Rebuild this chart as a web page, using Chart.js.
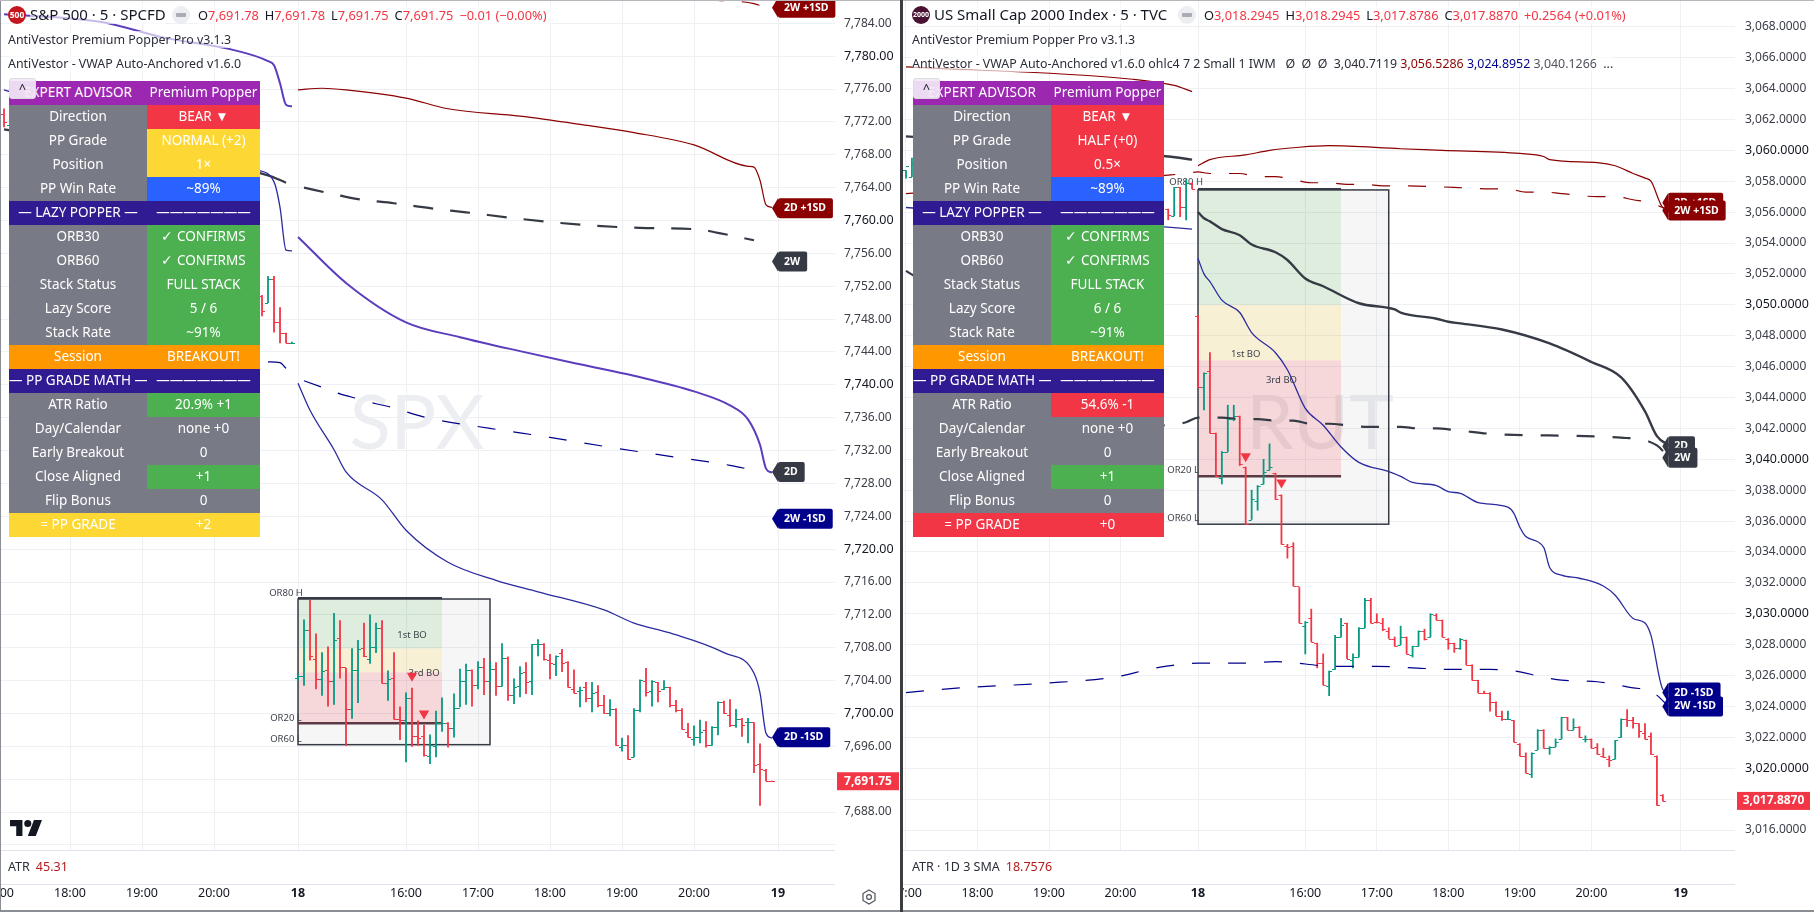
<!DOCTYPE html>
<html>
<head>
<meta charset="utf-8">
<title>SPX / RUT</title>
<script src="https://cdn.jsdelivr.net/npm/chart.js@4/dist/chart.umd.min.js"></script>
<style>
  html, body { margin: 0; padding: 0; background: #fff; width: 1814px; height: 912px; overflow: hidden; }
  body { font-family: "Noto Sans", sans-serif; color: #131722; position: relative; }
  canvas { position: absolute; top: 0; }
  .abs { position: absolute; white-space: pre; }
  .title { font-size: 15px; top: 4px; background: rgba(255,255,255,.65); }
  .ohlc { font-size: 12.8px; top: 6px; color: #131722; background: rgba(255,255,255,.65); }
  .ohlc b { font-weight: 400; color: #f23645; margin-right: 6px; }
  .row { font-size: 12.4px; color: #2a2e39; background: rgba(255,255,255,.65); }
  .row i { font-style: normal; }
  .hline { position: absolute; height: 1px; background: #e0e3eb; }
  .icon { position: absolute; top: 6px; width: 18px; height: 18px; border-radius: 50%; color: #fff; font-size: 8.5px; font-weight: 700; text-align: center; line-height: 18px; }
  .minus { position: absolute; top: 6px; width: 18px; height: 18px; border-radius: 50%; background: #eceef1; }
  .minus:after { content: ""; position: absolute; left: 4px; top: 7px; width: 10px; height: 4px; border-radius: 1px; background: #a9acb5; }
  table.ea { position: absolute; top: 81px; border-collapse: collapse; table-layout: fixed; width: 251px; font-size: 13.5px; color: #fff; text-align: center; }
  table.ea td { height: 24px; padding: 0 0 2px 0; box-sizing: border-box; line-height: 22px; white-space: nowrap; overflow: hidden; }
  .pur { background: #9c27b0; } .gry { background: #787b86; } .red { background: #f23645; }
  .yel { background: #fdd835; } .blu { background: #2962ff; } .nav { background: #311b92; }
  .grn { background: #4caf50; } .org { background: #ff9800; }
  .collapse { position: absolute; top: 78px; width: 27px; height: 21px; background: rgba(243,232,247,.92); border: 1px solid #dcdcdc; border-radius: 3px; box-sizing: border-box; font-size: 13px; text-align: center; line-height: 19px; color: #131722; }
  .atr { top: 858px; font-size: 12.5px; color: #2a2e39; }
  .atr b { font-weight: 400; color: #b71c1c; margin-left: 6px; }
</style>
</head>
<body>
<canvas id="spxChart" width="900" height="912" style="left:0"></canvas>
<canvas id="rutChart" width="911" height="912" style="left:903px"></canvas>

<div class="hline" style="left:0;width:835px;top:850px"></div>
<div class="hline" style="left:0;width:835px;top:884px"></div>
<div class="hline" style="left:903px;width:832px;top:850px"></div>
<div class="hline" style="left:903px;width:832px;top:884px"></div>
<div style="position:absolute;left:0;top:0;width:1px;height:912px;background:#8a8d94"></div>
<div style="position:absolute;left:0;top:0;width:1814px;height:1px;background:#b5b7bd"></div>
<div style="position:absolute;left:0;top:910px;width:1814px;height:2px;background:#8a8d94"></div>
<div style="position:absolute;left:900px;top:0;width:3px;height:912px;background:#3b3d42"></div>

<div class="icon" style="left:8px;background:#c4161c">500</div>
<div class="abs title" style="left:30px">S&amp;P 500 · 5 · SPCFD</div>
<div class="minus" style="left:172px"></div>
<div class="abs ohlc" style="left:198px">O<b>7,691.78</b>H<b>7,691.78</b>L<b>7,691.75</b>C<b>7,691.75</b><b>−0.01 (−0.00%)</b></div>
<div class="abs row" style="left:8px;top:31px">AntiVestor Premium Popper Pro v3.1.3</div>
<div class="abs row" style="left:8px;top:55px">AntiVestor - VWAP Auto-Anchored v1.6.0</div>
<div class="abs atr" style="left:8px">ATR<b>45.31</b></div>

<div class="icon" style="left:912px;background:#4a1232;font-size:7px">2000</div>
<div class="abs title" style="left:934px">US Small Cap 2000 Index · 5 · TVC</div>
<div class="minus" style="left:1178px"></div>
<div class="abs ohlc" style="left:1204px">O<b>3,018.2945</b>H<b>3,018.2945</b>L<b>3,017.8786</b>C<b>3,017.8870</b><b>+0.2564 (+0.01%)</b></div>
<div class="abs row" style="left:912px;top:31px">AntiVestor Premium Popper Pro v3.1.3</div>
<div class="abs row" style="left:912px;top:55px">AntiVestor - VWAP Auto-Anchored v1.6.0 ohlc4 7 2 Small 1 IWM   Ø  Ø  Ø  3,040.7119 <i style="color:#8b0000">3,056.5286</i> <i style="color:#00008b">3,024.8952</i> <i style="color:#50535e">3,040.1266</i>  ...</div>
<div class="abs atr" style="left:912px">ATR · 1D 3 SMA<b>18.7576</b></div>

<table class="ea" id="spxTable" style="left:9px"></table>
<table class="ea" id="rutTable" style="left:913px"></table>
<div class="collapse" style="left:9px">^</div>
<div class="collapse" style="left:913px">^</div>

<svg style="position:absolute;left:10px;top:820px" width="32" height="16" viewBox="0 0 36 18">
  <path fill="#131722" d="M0 0h14v18H7V7H0zM20 0a4 4 0 1 1 0 8a4 4 0 0 1 0-8zM27 0h9l-7 18h-9z"/>
</svg>
<svg style="position:absolute;left:861px;top:889px" width="16" height="16" viewBox="0 0 16 16" fill="none" stroke="#50535e" stroke-width="1.2">
  <polygon points="8,1 14,4.5 14,11.5 8,15 2,11.5 2,4.5"/><circle cx="8" cy="8" r="2.4"/>
</svg>

<script>
// S&P 500 bars (index 0 = 14:30 of the 18th, 5 min a bar)
const spxIndex = [-49,-48,-6,-5,-4,-3,-2,-1,
  0,1,2,3,4,5,6,7,8,9,10,11,12,13,14,15,16,17,18,19,20,21,22,23,24,25,26,27,28,29,30,31,32,33,34,35,36,37,38,39,
  40,41,42,43,44,45,46,47,48,49,50,51,52,53,54,55,56,57,58,59,60,61,62,63,64,65,66,67,68,69,70,71,72,73,74,75,76,77,78,79];
const spxOpen = [7773,7771.6,7750.8,7750,7752.9,7747.6,7746.3,7745.1,
  7704.3,7704.5,7710.1,7706.6,7704.2,7705.3,7704,7709.2,7705.6,7700.5,7705.3,7708,7706.6,7708.1,7710.4,7703.7,7704.3,7699.3,7699.2,7701.9,7697.3,7697.3,7694.8,7696,7698.8,7698.8,7698.2,7700.7,7703.9,7705.3,7703.5,7705.7,7704,7705.4,7703.3,7706.7,7702.2,7703.3,7705.1,7704,
  7708.4,7708.5,7706.5,7706,7707.4,7706.3,7703,7702.7,7703.2,7701.9,7702.6,7701,7700.1,7700.6,7695.9,7696.1,7694.7,7700.4,7704,7702.7,7703.8,7703,7703.2,7701,7700.4,7697.8,7696.9,7697.1,7698,7696.1,7698.3,7701.4,7699.8,7698.6,7699.3,7698.9,7698.9,7693.9,7693.1,7691.78];
const spxHigh = [7773.6,7772.2,7750.9,7753.2,7753.2,7749.4,7746.3,7745.2,
  7704.8,7711.4,7713.8,7709.7,7707.4,7708.1,7712.2,7711.3,7705.5,7707.9,7708.9,7711,7712,7711,7711.3,7705.2,7707.4,7700.8,7702.5,7703.1,7699.1,7698.6,7697.4,7700.3,7701.9,7698.9,7702.4,7705.4,7706,7705.3,7706.3,7706.7,7706.2,7706.2,7708.5,7706.9,7704.2,7705.7,7706.2,7708.4,
  7709,7708.5,7707.2,7707,7707.8,7706.3,7705.3,7703.2,7703.8,7703.8,7703.4,7702.2,7701.7,7700.6,7697,7697.3,7700.6,7704.1,7705.5,7704,7703.8,7704,7703.2,7701.6,7700.6,7698.8,7698.5,7699.2,7699,7698.4,7701.4,7701.5,7701.7,7700.5,7699.4,7699.4,7698.9,7696.3,7693.2,7691.78];
const spxLow = [7771.4,7770.8,7748.4,7750,7746.4,7745.1,7745.1,7745.1,
  7704,7703.4,7706.5,7703,7702.2,7700.9,7701.1,7704.3,7696.1,7699.4,7701.3,7706.9,7706.1,7707.4,7703.7,7701.6,7699.3,7696.8,7694.1,7696,7696.1,7694.8,7693.9,7694.7,7697.8,7695.9,7697.1,7700.8,7701.1,7700.9,7703,7702.3,7703.9,7702.2,7703.3,7701.6,7701.2,7702,7702.4,7702.3,
  7707,7706.5,7704.2,7704.6,7705.1,7703.2,7702.5,7700.8,7701.4,7700.2,7700.8,7700,7699.7,7696.1,7695.4,7694.4,7694.7,7700.2,7702.1,7700.9,7701.4,7702.9,7700.8,7700.2,7698.1,7697.1,7696.1,7696.4,7695.9,7696.1,7697.4,7700,7698.4,7698.3,7697.2,7696.4,7692.8,7688.8,7691.8,7691.75];
const spxClose = [7772,7772,7749,7752.9,7747.6,7746.3,7745.1,7745.1,
  7704.5,7710.1,7707,7704.2,7705.2,7704,7708.9,7705.7,7700.5,7705.3,7707.8,7707,7708.1,7710.4,7703.7,7704.2,7699.3,7699.2,7701.9,7697.3,7697,7695,7696.2,7698.8,7698.8,7698.2,7700.7,7703.9,7705.3,7703.5,7705.7,7704,7705.4,7703.3,7706.7,7702.2,7703.2,7704.9,7703.8,7708.4,
  7708.4,7706.6,7706.2,7707,7706.1,7703.2,7702.5,7702.8,7701.9,7702.5,7701,7700.1,7700.6,7696.1,7696.1,7694.5,7700.4,7704.1,7702.6,7703.9,7702.7,7703.2,7701,7700.4,7698.1,7697.1,7697.1,7697.8,7696.1,7698.3,7701.4,7700,7698.6,7699.3,7698.6,7698.9,7693.7,7693.2,7691.8,7691.75];

// Russell bars
const rutIndex = [-49,-48,-5,-4,-3,-2,-1,
  0,1,2,3,4,5,6,7,8,9,10,11,12,13,14,15,16,17,18,19,20,21,22,23,24,25,26,27,28,29,30,31,32,33,34,35,36,37,38,39,
  40,41,42,43,44,45,46,47,48,49,50,51,52,53,54,55,56,57,58,59,60,61,62,63,64,65,66,67,68,69,70,71,72,73,74,75,76,77,78];
const rutOpen = [3058.7,3058.3,3056.2,3055.75,3057.6,3056.3,3057.9,
  3049.3,3044.7,3045.7,3041.7,3038.8,3040.5,3042.6,3042.8,3039.5,3036.1,3037.3,3038.4,3039.3,3039.1,3037.7,3034.4,3034.4,3031.8,3029.2,3029.7,3028.1,3026.8,3025.3,3026.4,3028.5,3029.4,3027,3027.2,3029.1,3030.9,3029.5,3029.4,3028.9,3028.4,3028,3028.5,3027.3,3027.9,3028.9,3028.5,
  3029.9,3029.6,3028.4,3028.1,3027.8,3028.3,3026.7,3025.7,3024.9,3024.9,3024.3,3023.4,3023.2,3023.1,3021.6,3020.8,3019.6,3021.2,3022.5,3021.3,3021.4,3021.9,3023.3,3022.5,3022.7,3021.9,3021.9,3021.4,3020.8,3020.6,3020.6,3022,3023.2,3023.1,3022.9,3022.3,3022.1,3020.8,3018.2945];
const rutHigh = [3058.7,3059.5,3056.2,3057.6,3057.6,3058.1,3057.9,
  3049.3,3045.6,3046.9,3041.7,3040.5,3043.5,3043.5,3042.8,3039.5,3038,3038.3,3040,3041,3039.1,3037.7,3034.5,3034.6,3031.7,3029.5,3030.3,3028.1,3027.4,3026.3,3028.6,3029.7,3029.4,3027.4,3029.1,3031,3031,3030,3029.7,3029.1,3028.5,3029.2,3028.5,3027.9,3028.9,3029,3030,
  3030,3029.6,3028.4,3028.1,3028.4,3028.3,3026.7,3025.7,3025,3024.9,3024.3,3023.7,3023.7,3023.1,3021.6,3021,3021,3022.5,3022.5,3021.4,3021.9,3023.3,3023.3,3023.2,3022.7,3022.1,3021.9,3021.6,3021.3,3020.8,3021.8,3023.2,3023.8,3023.3,3022.9,3022.9,3022.3,3020.8,3018.2945];
const rutLow = [3058.2,3058.3,3055.5,3055.75,3055.7,3055.5,3057.5,
  3044.7,3043.2,3041.7,3038.9,3038.4,3040.5,3042.5,3039.6,3035.8,3036.1,3036.7,3038.4,3039.3,3037.4,3034.5,3033.6,3031.8,3029.4,3027.4,3028.2,3026.5,3025.4,3024.7,3026.4,3028.5,3027.1,3026.5,3027.2,3029.1,3029.4,3029.4,3028.9,3028.4,3027.9,3028,3027.4,3027.2,3027.9,3028.3,3028.5,
  3029.6,3028.5,3027.7,3027.5,3027.7,3026.7,3025.7,3024.9,3024.9,3023.7,3023.4,3023.1,3023.2,3021.7,3020.8,3019.7,3019.4,3021.2,3021.3,3020.9,3021.4,3021.9,3022.5,3022.5,3022,3021.7,3021.3,3020.9,3020.7,3020.1,3020.6,3022,3022.7,3022.6,3022,3021.9,3020.9,3017.6,3017.8786];
const rutClose = [3059,3059.2,3055.8,3057.6,3056.3,3057.9,3057.5,
  3044.7,3045.6,3041.7,3038.9,3040.5,3042.6,3042.8,3039.7,3035.8,3037.4,3038.3,3039.2,3039.5,3037.4,3034.5,3034.3,3031.8,3029.4,3029.5,3028.2,3026.8,3025.4,3026.3,3028.5,3029.3,3027.1,3027.2,3029.1,3030.9,3029.4,3029.45,3029,3028.4,3027.9,3028.5,3027.4,3027.9,3028.9,3028.4,3030,
  3029.6,3028.5,3028.1,3027.8,3028.4,3026.7,3025.7,3024.9,3024.85,3024.3,3023.4,3023.2,3023.2,3021.7,3020.8,3019.7,3021,3022.5,3021.3,3021.4,3021.7,3023.3,3022.5,3022.7,3022,3021.9,3021.3,3020.9,3020.7,3020.55,3021.8,3023.2,3023.1,3022.9,3022.4,3021.9,3020.9,3017.6,3017.887];

// VWAP bands, each an index list and a value list
const spx2dIdx = [0,8,18,27,37,47,56,66,72,75,77,78,79];
const spx2dVal = [7758,7752.4,7747.6,7745.8,7744.1,7742.5,7741.1,7739.2,7737.5,7735.8,7732.7,7729.8,7729.3];
const spx2dPrevIdx = [-49,-33,-22,-11,-5,-4,-3,-2,-1];
const spx2dPrevVal = [7785.1,7784.2,7782.2,7780.8,7779.4,7778.9,7776.7,7774.1,7773.9];
const spxLowIdx = [0,2,6,8,14,18,25,33,40,51,56,62,71,76,77,78,79];
const spxLowVal = [7740.2,7736.9,7732.1,7729.4,7726,7722.3,7718.4,7716.2,7714.8,7712.6,7711,7709.8,7707.4,7704.9,7702.5,7697.6,7697];
const spxLowPrevIdx = [-49,-7,-4,-3,-2,-1];
const spxLowPrevVal = [7775.9,7766.2,7764.7,7761.6,7756.4,7756.3];
const spxHighIdx = [0,4,8,18,25,37,47,56,66,75,76,77,78,79];
const spxHighVal = [7775.9,7776.1,7775.9,7774.9,7773.6,7772.7,7771.7,7770.7,7769.2,7766.6,7766.5,7764.9,7761.9,7761.6];
const spx2wIdx = [1,6,10,16,22,28,37,47,57,67,70,76];
const spx2wVal = [7764,7763.2,7762.6,7762.1,7761.5,7761,7760.2,7759.5,7759.1,7758.9,7758.5,7757.6];
const spx2wPrevIdx = [-49,-5,-2];
const spx2wPrevVal = [7771.1,7765.5,7764.6];
const spx2wLowIdx = [1,4,7,10,13,16,19,22,32,42,52,62,72,76];
const spx2wLowVal = [7740.5,7739.7,7738.9,7738.3,7737.7,7737.2,7736.5,7735.9,7734.7,7733.6,7732.4,7731.3,7730.2,7729.6];
const spx2wLowPrevIdx = [-5,-3,-2];
const spx2wLowPrevVal = [7742.8,7742.7,7742];
const spx2wHighIdx = [62,70,76,79];
const spx2wHighVal = [7787.3,7786.8,7786.4,7785.6];

const rut2dIdx = [0,1,2,4,7,9,13,15,18,21,27,33,34,40,42,44,51,59,66,71,75,77,79];
const rut2dVal = [3056,3055.6,3055.4,3054.9,3054.5,3053.9,3053.4,3052.9,3051.7,3051.2,3050.1,3049.7,3049.5,3049.1,3048.9,3048.8,3048.4,3047.5,3046.3,3045.3,3043.1,3041.5,3040.9];
const rut2dPrevIdx = [-49,-5,-1];
const rut2dPrevVal = [3060.9,3059.6,3059.4];
const rutLowIdx = [0,1,2,4,7,9,13,15,18,21,24,27,32,34,36,40,42,44,47,52,53,54,55,58,59,61,64,68,70,73,75,76,78,79];
const rutLowVal = [3053,3052,3051.5,3050.3,3049.5,3048.2,3046.9,3045.8,3043.3,3042.2,3040.8,3039.8,3039.2,3038.9,3038.5,3038.3,3037.9,3037.8,3037.2,3036.9,3036.5,3035.6,3035,3034.3,3033,3032.5,3032.3,3031.8,3031.2,3029.7,3029.4,3028.6,3025.1,3024.9];
const rutLowPrevIdx = [-49,-4,-1];
const rutLowPrevVal = [3056.3,3055,3054.9];
const rutHighIdx = [0,2,8,12,17,22,34,41,54,58,59,67,70,73,75,76,78,79];
const rutHighVal = [3059,3059.4,3059.7,3060,3060.2,3060.3,3060.1,3060,3059.8,3059.6,3059.4,3059.2,3059,3058.5,3058.2,3058,3056.3,3056.2];
const rutHighPrevIdx = [-49,-11,-4,-1];
const rutHighPrevVal = [3065.4,3064.6,3064.2,3063.8];
const rut2wIdx = [-49,-6,-2,0,4,7,10,13,16,19,22,25,28,31,34,37,40,43,51,71,77,79];
const rut2wVal = [3052.2,3042.2,3042.4,3042.7,3042.7,3042.6,3042.6,3042.5,3042.5,3042.3,3042.3,3042.2,3042.1,3042.1,3042.1,3042,3042,3041.9,3041.6,3041.4,3040.9,3040.1];
const rut2wLowIdx = [-49,-40,-26,-14,-7,0,7,13,23,30,36,42,49,53,58,61,67,73,76,79];
const rut2wLowVal = [3024.9,3025.2,3025.5,3025.9,3026.5,3026.8,3026.8,3026.9,3026.6,3026.6,3026.5,3026.4,3026.4,3026.3,3025.9,3025.7,3025.6,3025.2,3025,3024];
const rut2wHighIdx = [-49,-5,-2,0,2,7,10,13,16,19,22,25,28,31,34,43,49,52,55,58,61,67,70,73,76,79];
const rut2wHighVal = [3057.2,3058.4,3058.5,3058.6,3058.5,3058.5,3058.3,3058.3,3058.1,3057.9,3057.9,3057.8,3057.8,3057.7,3057.7,3057.6,3057.5,3057.5,3057.3,3057.3,3057.2,3057,3057,3056.8,3056.6,3056.1];

// axis ticks
const spxPriceTicks = [7684,7688,7692,7696,7700,7704,7708,7712,7716,7720,7724,7728,7732,7736,7740,7744,7748,7752,7756,7760,7764,7768,7772,7776,7780,7784];
const rutPriceTicks = [3016,3018,3020,3022,3024,3026,3028,3030,3032,3034,3036,3038,3040,3042,3044,3046,3048,3050,3052,3054,3056,3058,3060,3062,3064,3066,3068];
const spxTimeTicks = [-50,-38,-26,-14,0,18,30,42,54,66,80];
const rutTimeTicks = [-49,-37,-25,-13,0,18,30,42,54,66,81];
const timeLabels = ['17:00','18:00','19:00','20:00','18','16:00','17:00','18:00','19:00','20:00','19'];

// opening range zones: value levels top to bottom
const spxZoneLevels = [7714.05,7707.9,7705,7698.8,7696.2];
const rutZoneLevels = [3057.5,3050,3046.4,3038.9,3035.8];
const zoneEnd = 24, boxEnd = 32;

// signal markers
const spxSignalIdx = [19,21];
const spxSignalVal = [7704.6,7700];
const rutSignalIdx = [8,14];
const rutSignalVal = [3040.2,3038.5];

const spxNotes = [['OR80 H',-2,7714.6],['OR20 L',-2,7699.4],['OR60 L',-2,7696.9],['1st BO',19,7709.5],['3rd BO',21,7704.9]];
const rutNotes = [['OR80 H',-2,3057.9],['OR20 L',-2.5,3039.3],['OR60 L',-2.5,3036.2],['1st BO',8,3046.8],['3rd BO',14,3045.1]];

// right edge flags, name and price
const spxTagNames = ['2W +1SD','2D +1SD','2W','2D','2W -1SD','2D -1SD'];
const spxTagVals = [7785.9,7761.5,7755,7729.4,7723.7,7697.1];
const rutTagNames = ['2D +1SD','2W +1SD','2D','2W','2D -1SD','2W -1SD'];
const rutTagVals = [3056.6,3056.1,3040.85,3040.1,3024.9,3024];

const spxRows = [
  ['EXPERT ADVISOR','Premium Popper','pur','pur'],['Direction','BEAR ▼','gry','red'],['PP Grade','NORMAL (+2)','gry','yel'],
  ['Position','1×','gry','yel'],['PP Win Rate','~89%','gry','blu'],['— LAZY POPPER —','———————','nav','nav'],
  ['ORB30','✓ CONFIRMS','gry','grn'],['ORB60','✓ CONFIRMS','gry','grn'],['Stack Status','FULL STACK','gry','grn'],
  ['Lazy Score','5 / 6','gry','grn'],['Stack Rate','~91%','gry','grn'],['Session','BREAKOUT!','org','org'],
  ['— PP GRADE MATH —','———————','nav','nav'],['ATR Ratio','20.9% +1','gry','grn'],['Day/Calendar','none +0','gry','gry'],
  ['Early Breakout','0','gry','gry'],['Close Aligned','+1','gry','grn'],['Flip Bonus','0','gry','gry'],['= PP GRADE','+2','yel','yel']];
const rutRows = [
  ['EXPERT ADVISOR','Premium Popper','pur','pur'],['Direction','BEAR ▼','gry','red'],['PP Grade','HALF (+0)','gry','red'],
  ['Position','0.5×','gry','red'],['PP Win Rate','~89%','gry','blu'],['— LAZY POPPER —','———————','nav','nav'],
  ['ORB30','✓ CONFIRMS','gry','grn'],['ORB60','✓ CONFIRMS','gry','grn'],['Stack Status','FULL STACK','gry','grn'],
  ['Lazy Score','6 / 6','gry','grn'],['Stack Rate','~91%','gry','grn'],['Session','BREAKOUT!','org','org'],
  ['— PP GRADE MATH —','———————','nav','nav'],['ATR Ratio','54.6% -1','gry','red'],['Day/Calendar','none +0','gry','gry'],
  ['Early Breakout','0','gry','gry'],['Close Aligned','+1','gry','grn'],['Flip Bonus','0','gry','gry'],['= PP GRADE','+0','red','red']];

function fillTable(id, rows) {
    document.getElementById(id).innerHTML =
        '<colgroup><col style="width:138px"><col style="width:113px"></colgroup>' +
        rows.map(r => `<tr><td class="${r[2]}">${r[0]}</td><td class="${r[3]}">${r[1]}</td></tr>`).join('');
}
fillTable('spxTable', spxRows);
fillTable('rutTable', rutRows);

const FONT = '"Noto Sans", sans-serif';
const UP = '#089981', DOWN = '#f23645';
const DARK = '#363a45', MAROON = '#8b0000', NAVY = '#00008b', BAND = '#2b2b9e', PURPLE = '#5c3dbd';
const tagColor = n => n.includes('+1SD') ? MAROON : n.includes('-1SD') ? NAVY : DARK;

function lineSet(idx, vals, color, width, dash) {
    return {
        type: 'line',
        data: idx.map((x, i) => ({ x, y: vals[i] })),
        borderColor: color,
        borderWidth: width,
        borderDash: dash || [],
        pointRadius: 0,
        cubicInterpolationMode: 'monotone',
        order: 2
    };
}

function money(v, digits) {
    return v.toLocaleString('en-US', { minimumFractionDigits: digits, maximumFractionDigits: digits });
}

// bar ticks, opening range boxes, flags, watermark: all placed through the chart scales
function panePlugin(cfg) {
    return {
        id: 'paneMarks',
        beforeDatasetsDraw(chart) {
            const { ctx, chartArea: a, scales: { x, y } } = chart;
            ctx.save();
            ctx.beginPath();
            ctx.rect(a.left, a.top, a.width, a.height);
            ctx.clip();
            ctx.fillStyle = '#eceef1';
            ctx.font = '400 76px Lato, ' + FONT;
            ctx.textAlign = 'center';
            ctx.textBaseline = 'middle';
            ctx.fillText(cfg.mark, cfg.markX, 424);

            const lv = cfg.zones.map(v => y.getPixelForValue(v));
            const x0 = x.getPixelForValue(0), zx = x.getPixelForValue(zoneEnd), bx = x.getPixelForValue(boxEnd);
            ctx.fillStyle = 'rgba(0,0,0,0.035)';
            ctx.fillRect(x0, lv[0], bx - x0, lv[4] - lv[0]);
            ctx.fillStyle = 'rgba(76,175,80,0.14)';
            ctx.fillRect(x0, lv[0], zx - x0, lv[1] - lv[0]);
            ctx.fillStyle = 'rgba(255,214,80,0.2)';
            ctx.fillRect(x0, lv[1], zx - x0, lv[2] - lv[1]);
            ctx.fillStyle = 'rgba(242,54,69,0.16)';
            ctx.fillRect(x0, lv[2], zx - x0, lv[3] - lv[2]);
            ctx.strokeStyle = DARK;
            ctx.lineWidth = 1.5;
            ctx.strokeRect(x0, lv[0] + 1, bx - x0, lv[4] - lv[0] - 1);
            ctx.lineWidth = 2;
            ctx.beginPath();
            ctx.moveTo(x0, lv[0]); ctx.lineTo(zx, lv[0]);
            ctx.stroke();
            ctx.strokeStyle = '#5a3a45';
            ctx.lineWidth = 2.4;
            ctx.beginPath();
            ctx.moveTo(x0, lv[3]); ctx.lineTo(zx, lv[3]);
            ctx.stroke();

            ctx.font = '9.5px ' + FONT;
            ctx.fillStyle = '#3f424c';
            cfg.notes.forEach(n => ctx.fillText(n[0], x.getPixelForValue(n[1]), y.getPixelForValue(n[2])));
            ctx.restore();
        },
        afterDatasetsDraw(chart) {
            const { ctx, chartArea: a, scales: { x, y } } = chart;
            ctx.save();
            ctx.lineWidth = 1.1;
            ctx.beginPath();
            ctx.rect(a.left, a.top, a.width, a.height);
            ctx.clip();
            cfg.index.forEach((idx, i) => {
                const px = x.getPixelForValue(idx);
                const po = Math.round(y.getPixelForValue(cfg.open[i])) + 0.5;
                const pc = Math.round(y.getPixelForValue(cfg.close[i])) + 0.5;
                ctx.strokeStyle = cfg.close[i] >= cfg.open[i] ? UP : DOWN;
                ctx.beginPath();
                ctx.moveTo(px - 3, po); ctx.lineTo(px, po);
                ctx.moveTo(px, pc); ctx.lineTo(px + 3, pc);
                ctx.stroke();
            });
            ctx.restore();

            ctx.save();
            ctx.font = '700 10.5px ' + FONT;
            ctx.textBaseline = 'middle';
            cfg.tagNames.forEach((name, i) => {
                const tip = x.getPixelForValue(cfg.tagAt), py = y.getPixelForValue(cfg.tagVals[i]);
                const w = ctx.measureText(name).width + 13;
                ctx.fillStyle = tagColor(name);
                ctx.beginPath();
                ctx.moveTo(tip, py);
                ctx.lineTo(tip + 6, py - 10);
                ctx.lineTo(tip + 6, py + 10);
                ctx.closePath();
                ctx.fill();
                ctx.beginPath();
                ctx.roundRect(tip + 6, py - 10, w, 20, 2);
                ctx.fill();
                ctx.fillStyle = '#fff';
                ctx.textAlign = 'left';
                ctx.fillText(name, tip + 12, py);
            });
            // last price label on the axis
            const ly = y.getPixelForValue(cfg.last), text = money(cfg.last, cfg.digits);
            ctx.fillStyle = DOWN;
            ctx.fillRect(a.right + 2, ly - 9, cfg.lastW, 18);
            ctx.fillStyle = '#fff';
            ctx.font = '700 12px ' + FONT;
            ctx.textAlign = 'center';
            ctx.fillText(text, a.right + 2 + cfg.lastW / 2, ly);
            ctx.restore();
        }
    };
}

function makePane(id, cfg) {
    const ctx = document.getElementById(id).getContext('2d');
    const wickData = cfg.index.map((x, i) => ({ x, y: [cfg.low[i], cfg.high[i]] }));
    return new Chart(ctx, {
        type: 'bar',
        data: {
            datasets: [
                {
                    type: 'scatter',
                    data: cfg.sigIdx.map((x, i) => ({ x, y: cfg.sigVal[i] })),
                    pointStyle: 'triangle',
                    rotation: 180,
                    radius: 6,
                    backgroundColor: DOWN,
                    borderWidth: 0,
                    order: 0
                },
                ...cfg.lines,
                {
                    type: 'bar',
                    data: wickData,
                    backgroundColor: cfg.index.map((x, i) => cfg.close[i] >= cfg.open[i] ? UP : DOWN),
                    barThickness: 1.15,
                    order: 3
                }
            ]
        },
        options: {
            responsive: false,
            animation: false,
            layout: { padding: 0, autoPadding: false },
            plugins: { legend: { display: false }, tooltip: { enabled: false } },
            scales: {
                x: {
                    type: 'linear',
                    offset: false,
                    min: cfg.xMin,
                    max: cfg.xMax,
                    border: { display: false },
                    grid: { color: '#eef0f4', drawTicks: false, offset: false },
                    afterBuildTicks: s => { s.ticks = cfg.timeTicks.map(value => ({ value })); },
                    afterFit: s => { s.height = 62; s.paddingLeft = 0; s.paddingRight = 0; },
                    ticks: {
                        autoSkip: false,
                        maxRotation: 0,
                        padding: 36,
                        color: '#131722',
                        font: c => ({ family: FONT, size: 12.5, weight: (c.tick && String(c.tick.label).length < 3) ? 700 : 400 }),
                        callback: (v, i) => timeLabels[i]
                    }
                },
                y: {
                    type: 'linear',
                    position: 'right',
                    min: cfg.yMin,
                    max: cfg.yMax,
                    border: { display: false },
                    grid: { color: '#eef0f4', drawTicks: false },
                    afterBuildTicks: s => { s.ticks = cfg.priceTicks.map(value => ({ value })); },
                    afterFit: s => { s.width = cfg.axisW; s.paddingTop = 0; s.paddingBottom = 0; },
                    ticks: {
                        autoSkip: false,
                        padding: cfg.tickPad,
                        align: 'center',
                        crossAlign: 'near',
                        color: c => (c.tick && c.tick.value % cfg.major === 0) ? '#131722' : '#3b3e48',
                        font: c => ({ family: FONT, size: (c.tick && c.tick.value % cfg.major === 0) ? 12.5 : 12 }),
                        callback: v => v < cfg.hideBelow ? '' : money(v, cfg.digits)
                    }
                }
            }
        },
        plugins: [panePlugin(cfg)]
    });
}

makePane('spxChart', {
    index: spxIndex, open: spxOpen, high: spxHigh, low: spxLow, close: spxClose,
    lines: [
        lineSet(spxHighIdx, spxHighVal, MAROON, 1.2),
        lineSet(spx2wHighIdx, spx2wHighVal, MAROON, 1.2, [18, 18]),
        lineSet(spx2dIdx, spx2dVal, PURPLE, 2),
        lineSet(spx2dPrevIdx, spx2dPrevVal, PURPLE, 2),
        lineSet(spxLowIdx, spxLowVal, BAND, 1.3),
        lineSet(spxLowPrevIdx, spxLowPrevVal, BAND, 1.3),
        lineSet(spx2wIdx, spx2wVal, DARK, 2.2, [20, 17]),
        lineSet(spx2wPrevIdx, spx2wPrevVal, DARK, 2.2),
        lineSet(spx2wLowIdx, spx2wLowVal, NAVY, 1.2, [18, 18]),
        lineSet(spx2wLowPrevIdx, spx2wLowPrevVal, NAVY, 1.2)
    ],
    sigIdx: spxSignalIdx, sigVal: spxSignalVal, zones: spxZoneLevels, notes: spxNotes,
    tagNames: spxTagNames, tagVals: spxTagVals, tagAt: 79,
    priceTicks: spxPriceTicks, timeTicks: spxTimeTicks,
    xMin: -49.67, xMax: 89.5, yMin: 7683.38, yMax: 7786.84,
    axisW: 65, tickPad: 9, digits: 2, major: 20, hideBelow: 7686,
    last: 7691.75, lastW: 62, mark: 'SPX', markX: 417
});

makePane('rutChart', {
    index: rutIndex, open: rutOpen, high: rutHigh, low: rutLow, close: rutClose,
    lines: [
        lineSet(rutHighIdx, rutHighVal, MAROON, 1.2),
        lineSet(rutHighPrevIdx, rutHighPrevVal, MAROON, 1.2),
        lineSet(rut2wHighIdx, rut2wHighVal, MAROON, 1.2, [18, 18]),
        lineSet(rut2dIdx, rut2dVal, DARK, 2.4),
        lineSet(rut2dPrevIdx, rut2dPrevVal, DARK, 2.4),
        lineSet(rutLowIdx, rutLowVal, BAND, 1.3),
        lineSet(rutLowPrevIdx, rutLowPrevVal, BAND, 1.3),
        lineSet(rut2wIdx, rut2wVal, DARK, 2.2, [18, 18]),
        lineSet(rut2wLowIdx, rut2wLowVal, NAVY, 1.2, [18, 18])
    ],
    sigIdx: rutSignalIdx, sigVal: rutSignalVal, zones: rutZoneLevels, notes: rutNotes,
    tagNames: rutTagNames, tagVals: rutTagVals, tagAt: 77.9,
    priceTicks: rutPriceTicks, timeTicks: rutTimeTicks,
    xMin: -49.5, xMax: 90.1, yMin: 3014.71, yMax: 3069.73,
    axisW: 79, tickPad: 10, digits: 4, major: 10, hideBelow: 3015,
    last: 3017.887, lastW: 73, mark: 'RUT', markX: 417
});
</script>
</body>
</html>
